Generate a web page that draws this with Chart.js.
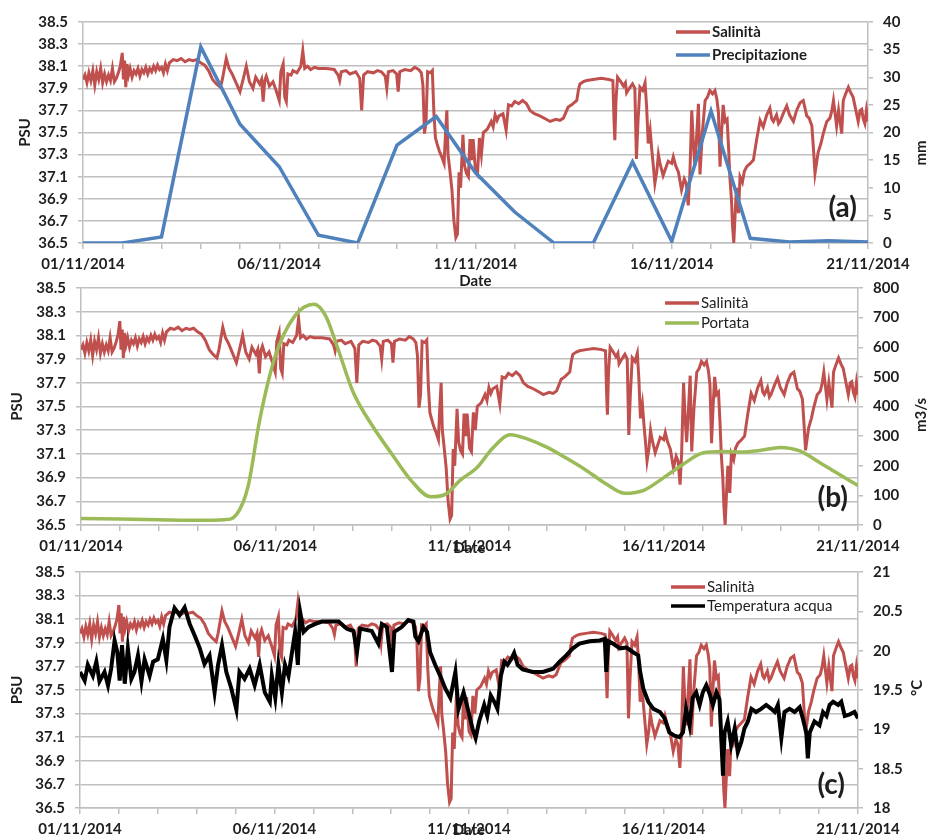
<!DOCTYPE html>
<html lang="it">
<head>
<meta charset="UTF-8">
<title>Salinità, precipitazione, portata e temperatura acqua</title>
<script src="https://cdn.jsdelivr.net/npm/chart.js"></script>
<style>
  body { margin: 0; background: #fff; }
  .panel { position: absolute; left: 0; width: 928px; }
  #pa { top: 0; height: 290px; }
  #pb { top: 278px; height: 282px; }
  #pc { top: 560px; height: 279px; }
</style>
</head>
<body>
<div class="panel" id="pa"><canvas id="chartA"></canvas></div>
<div class="panel" id="pb"><canvas id="chartB"></canvas></div>
<div class="panel" id="pc"><canvas id="chartC"></canvas></div>
<script>
// x = days since 01/11/2014
const dateLabels = ['01/11/2014', '06/11/2014', '11/11/2014', '16/11/2014', '21/11/2014'];

// Salinità (PSU), same series in all three panels
const salDay = [
  0,0.05,0.1,0.15,0.2,0.25,0.3,0.35,0.4,0.45,0.5,0.55,0.6,0.65,0.7,0.75,0.8,0.85,0.9,0.95,
  1,1.03,1.06,1.09,1.12,1.16,1.2,1.25,1.3,1.35,1.4,1.45,1.5,1.55,1.6,1.65,1.7,1.75,1.8,1.85,1.9,1.95,
  2,2.05,2.1,2.15,2.2,2.3,2.4,2.5,2.6,2.7,2.8,2.9,
  3,3.1,3.2,3.3,3.4,3.5,3.55,3.65,3.72,3.8,3.9,
  4,4.08,4.16,4.24,4.33,4.4,4.5,4.55,4.59,4.63,4.67,4.75,4.84,4.92,
  5,5.04,5.1,5.14,5.18,5.22,5.3,5.35,5.45,5.55,5.6,5.65,5.72,5.8,5.9,
  6,6.2,6.4,6.5,6.54,6.58,6.7,6.8,6.95,
  7.05,7.1,7.15,7.25,7.4,7.5,7.6,7.7,7.74,7.78,7.9,7.99,
  8.03,8.07,8.2,8.35,8.45,8.55,8.62,8.66,8.7,8.74,8.78,8.85,8.9,8.94,8.98,
  9.02,9.08,9.14,9.2,9.24,9.27,9.3,9.34,9.4,9.45,9.5,9.54,9.58,9.62,9.68,9.72,9.77,9.82,9.86,9.9,9.94,
  10,10.05,10.1,10.15,10.2,10.3,10.4,10.45,10.5,10.55,10.6,10.7,10.78,10.84,10.92,
  11,11.1,11.2,11.3,11.39,11.5,11.64,11.8,11.9,
  12.05,12.15,12.24,12.3,12.36,12.45,12.58,12.62,12.66,12.75,12.83,
  13,13.2,13.4,13.5,13.53,13.55,13.58,13.62,13.7,13.77,13.82,13.85,13.92,
  14,14.06,14.1,14.14,14.19,14.26,14.32,14.36,14.4,14.45,14.49,14.53,14.57,14.62,14.66,14.7,14.78,14.85,14.91,
  15,15.04,15.1,15.17,15.25,15.32,15.37,15.42,15.46,15.51,15.55,15.59,15.64,15.68,15.72,15.78,15.85,15.91,15.97,
  16.04,16.1,16.15,16.19,16.23,16.27,16.31,16.36,16.41,16.45,16.48,16.52,16.55,16.58,16.62,16.65,16.7,16.74,16.8,16.85,16.91,
  17,17.08,17.16,17.25,17.33,17.42,17.5,17.55,17.59,17.67,17.72,17.76,17.85,17.93,
  18,18.1,18.18,18.27,18.35,18.44,18.5,18.57,18.62,18.65,18.7,18.73,18.8,18.86,18.95,
  19.03,19.08,19.12,19.2,19.25,19.33,19.37,19.43,19.5,19.56,19.62,19.68,19.75,19.8,19.84,19.88,19.92,19.96,20
];
const salVal = [
  37.98,38.02,37.95,38.04,37.97,38.06,37.93,38.05,37.98,38.08,37.95,38.03,37.96,38.02,37.97,38.08,37.96,37.99,38.04,38.10,
  38.22,37.98,38.15,37.91,38.12,38.02,38.08,38.00,38.06,38.03,38.08,38.01,38.07,38.04,38.09,38.03,38.08,38.05,38.10,38.06,38.11,38.07,
  38.09,38.04,38.12,38.06,38.13,38.16,38.15,38.17,38.14,38.16,38.15,38.16,
  38.13,38.11,38.06,37.98,37.94,37.91,37.98,38.17,38.08,38.03,37.95,
  37.87,37.98,38.10,37.96,37.90,38.00,37.94,37.98,37.78,37.97,38.01,37.92,37.96,37.88,
  37.79,38.05,38.12,37.82,37.78,38.03,38.02,38.06,38.04,38.10,38.24,38.08,38.10,38.07,38.09,
  38.08,38.08,38.07,38.02,37.97,38.05,38.06,38.03,38.05,
  37.99,37.70,38.02,38.05,38.04,38.06,38.05,38.01,37.90,38.05,38.06,38.03,
  37.87,38.05,38.07,38.06,38.09,38.07,38.04,37.93,37.49,37.60,38.05,38.04,38.06,37.68,37.45,
  37.40,37.33,37.28,37.22,37.52,37.70,37.30,37.18,36.98,36.70,36.55,36.58,37.14,37.00,37.48,37.20,37.13,37.10,37.44,37.25,37.44,
  37.15,37.12,37.45,37.30,37.50,37.53,37.60,37.55,37.66,37.61,37.65,37.67,37.52,37.75,37.74,
  37.78,37.76,37.79,37.76,37.70,37.67,37.65,37.62,37.60,
  37.62,37.61,37.63,37.68,37.73,37.75,37.79,37.88,37.94,37.96,37.97,
  37.98,37.99,37.98,37.97,37.60,37.43,37.80,38.00,37.96,37.92,37.95,37.86,37.90,
  37.94,37.90,37.26,37.60,37.91,37.88,37.95,37.73,37.40,37.52,37.35,37.20,37.04,37.15,37.30,37.22,37.11,37.18,37.24,
  37.22,37.28,37.20,37.14,36.98,37.08,37.04,36.84,37.10,37.70,37.40,37.20,37.50,37.76,37.12,37.50,37.79,37.82,37.88,
  37.85,37.88,37.80,37.68,37.19,37.50,37.75,37.60,37.62,37.35,37.10,36.90,36.65,36.50,36.80,37.00,36.77,37.10,37.05,37.15,37.19,
  37.22,37.25,37.43,37.61,37.55,37.66,37.72,37.62,37.60,37.66,37.58,37.60,37.68,37.74,
  37.66,37.60,37.70,37.77,37.79,37.65,37.63,37.56,37.30,37.13,37.25,37.32,37.40,37.49,37.60,
  37.63,37.70,37.79,37.56,37.70,37.49,37.79,37.85,37.91,37.86,37.82,37.72,37.60,37.70,37.71,37.62,37.58,37.70,37.60
];

// Precipitazione (mm), daily
const precDay = [0,1,2,3,4,5,6,7,8,9,10,11,12,13,14,15,16,17,18,19,20];
const precVal = [0,0,1.1,35.5,21.5,13.8,1.4,0,17.7,22.9,12.7,5.6,0,0,14.7,0.3,23.9,0.85,0.2,0.4,0.2];

// Portata (m3/s)
const portDay = [0,1,2,3,3.7,4,4.3,4.6,5,5.5,6,6.3,6.6,7,7.5,8,8.5,9,9.4,9.75,10.2,10.6,11.05,11.5,12,12.5,13,13.5,14,14.5,15,15.5,16,16.5,17,17.5,18,18.5,19,19.5,20];
const portVal = [22,20,18,16,18,35,130,355,570,705,745,705,600,450,335,240,150,95,105,150,195,260,305,290,262,225,185,140,107,118,160,205,243,248,246,252,262,250,212,172,133];

// Temperatura acqua (°C)
const tempDay = [
  0,0.12,0.2,0.33,0.42,0.5,0.63,0.72,0.8,0.89,0.96,
  1.02,1.08,1.15,1.23,1.32,1.4,1.49,1.58,1.66,1.79,1.88,
  2,2.13,2.22,2.3,2.43,2.56,2.69,2.82,2.95,
  3.08,3.2,3.33,3.46,3.55,3.65,3.76,3.89,
  4.02,4.1,4.23,4.36,4.49,4.62,4.75,4.88,4.93,
  5.02,5.1,5.19,5.27,5.36,5.45,5.53,5.6,5.66,5.75,5.87,
  6.05,6.22,6.65,6.86,
  7.03,7.12,7.2,7.5,7.67,7.76,7.89,
  8.02,8.08,8.27,8.44,8.57,8.62,8.7,8.83,8.92,
  9,9.13,9.26,9.39,9.52,9.65,9.73,9.86,9.95,
  10.09,10.17,10.26,10.39,10.47,10.56,10.65,10.73,10.82,10.91,10.99,
  11.08,11.16,11.25,11.38,11.64,11.9,
  12.16,12.33,12.5,12.67,12.84,
  13.1,13.36,13.49,13.53,13.58,13.7,13.88,
  14.05,14.22,14.35,14.4,14.48,14.61,14.74,14.91,
  15.03,15.15,15.28,15.41,15.5,15.58,15.67,15.75,15.84,15.93,
  16.01,16.1,16.18,16.27,16.36,16.44,16.53,16.57,16.65,16.74,16.83,16.91,
  17,17.08,17.17,17.26,17.38,17.51,17.64,17.77,17.86,17.94,
  18.03,18.11,18.24,18.37,18.5,18.58,18.67,18.71,18.76,18.88,
  19.01,19.1,19.19,19.27,19.36,19.49,19.57,19.66,19.79,19.91,20
];
const tempVal = [
  19.73,19.62,19.82,19.68,19.86,19.61,19.73,19.56,19.77,20.13,19.98,
  19.62,20.07,19.58,20.03,19.64,19.73,19.94,19.61,19.89,19.68,19.86,
  19.89,20.15,19.88,20.30,20.54,20.45,20.55,20.34,20.19,
  20.03,19.83,19.94,19.47,19.82,20.07,19.73,19.52,
  19.25,19.73,19.64,19.77,19.56,19.82,19.47,19.35,19.68,
  19.40,19.82,19.47,19.82,19.68,19.98,20.24,19.82,20.49,20.24,20.30,
  20.34,20.37,20.37,20.28,
  20.25,19.98,20.28,20.25,20.09,20.34,20.30,
  19.73,20.24,20.30,20.39,20.37,20.18,20.12,20.30,20.24,
  19.98,19.82,19.68,19.52,19.40,19.73,19.26,19.47,19.30,
  19.01,18.89,19.10,19.31,19.17,19.43,19.35,19.26,19.68,19.86,19.82,
  19.89,19.97,19.82,19.76,19.73,19.73,
  19.77,19.86,19.94,20.03,20.09,
  20.12,20.13,20.15,19.73,20.12,20.09,20.03,
  20.04,19.98,19.94,19.73,19.52,19.35,19.26,19.22,
  19.14,18.96,18.92,18.90,18.96,19.26,19.05,19.40,19.47,19.31,
  19.47,19.56,19.46,19.31,19.47,19.38,18.41,18.96,19.10,18.80,19.01,18.71,
  18.84,19.01,19.10,19.26,19.22,19.26,19.31,19.26,19.22,19.31,
  18.89,19.22,19.26,19.22,19.28,19.14,18.96,18.63,18.96,19.10,
  19.05,19.22,19.17,19.31,19.35,19.31,19.35,19.17,19.19,19.22,19.14
];

const pts = (xs, ys) => xs.map((x, i) => ({ x: x, y: ys[i] }));
const salinity = pts(salDay, salVal);

const FONT = "Lato, 'Open Sans', sans-serif";
const INK = '#1e1e1e';
const GRID = '#BFBFBF';
Chart.defaults.font.family = FONT;
Chart.defaults.color = INK;

// legend, right axis title and panel tag, drawn over the plot
const decorPlugin = {
  id: 'decor',
  afterDatasetsDraw(chart, args, o) {
    const ctx = chart.ctx;
    ctx.save();
    chart.data.datasets.forEach((ds, i) => {
      const y = o.legendY + i * o.legendGap;
      ctx.strokeStyle = ds.borderColor;
      ctx.lineWidth = 3.5;
      ctx.beginPath();
      ctx.moveTo(o.legendX, y);
      ctx.lineTo(o.legendX + 34, y);
      ctx.stroke();
      ctx.fillStyle = INK;
      ctx.font = o.legendFont;
      ctx.textAlign = 'left';
      ctx.textBaseline = 'middle';
      ctx.fillText(ds.label, o.legendX + 36, y);
    });
    ctx.font = 'bold 28px ' + FONT;
    ctx.textAlign = 'right';
    ctx.textBaseline = 'middle';
    ctx.fillText(o.tag, o.tagX, o.tagY);
    ctx.translate(o.rtX, o.rtY);
    ctx.rotate(-Math.PI / 2);
    ctx.font = 'bold 15px ' + FONT;
    ctx.textAlign = 'center';
    ctx.fillText(o.rightTitle, 0, 0);
    ctx.restore();
  }
};

function makeOptions(p) {
  const tickFont = { family: FONT, size: 15, weight: 'bold' };
  return {
    responsive: true,
    maintainAspectRatio: false,
    animation: false,
    layout: { padding: { top: p.top, left: 0, right: 0, bottom: 0 }, autoPadding: false },
    elements: { point: { radius: 0 } },
    plugins: { legend: { display: false }, tooltip: { enabled: false }, decor: p.decor },
    scales: {
      x: {
        type: 'linear', min: 0, max: 20,
        ticks: {
          stepSize: 1, autoSkip: false, maxRotation: 0, padding: 6, font: tickFont, color: INK,
          callback: v => (v % 5 === 0 ? dateLabels[v / 5] : '')
        },
        grid: { drawOnChartArea: false, tickLength: 6, color: GRID, lineWidth: 1.5 },
        border: { color: GRID, width: 1.5 },
        title: { display: true, text: 'Date', font: { family: FONT, size: 15, weight: 'bold' }, color: INK,
                 padding: { top: 0, bottom: p.datePad } },
        afterFit: s => { s.height = p.xh; s.paddingLeft = 0; s.paddingRight = 0; }
      },
      y: {
        position: 'left', min: 36.5, max: 38.5,
        ticks: { stepSize: 0.2, padding: 10, font: tickFont, color: INK, callback: v => v.toFixed(1) },
        grid: { color: GRID, lineWidth: 1.5, tickLength: 5 },
        border: { color: GRID, width: 1.5 },
        title: { display: true, text: 'PSU', font: { family: FONT, size: 15, weight: 'bold' }, color: INK,
                 padding: { top: p.psuPad, bottom: 0 } },
        afterFit: s => { s.width = p.left; s.paddingTop = 0; s.paddingBottom = 0; }
      },
      y2: {
        position: 'right', min: p.rmin, max: p.rmax,
        ticks: { stepSize: p.rstep, padding: 10, font: tickFont, color: INK, callback: v => String(+v.toFixed(2)) },
        grid: { drawOnChartArea: false, color: GRID, lineWidth: 1.5, tickLength: 5 },
        border: { color: GRID, width: 1.5 },
        afterFit: s => { s.width = 928 - p.right; s.paddingTop = 0; s.paddingBottom = 0; }
      }
    }
  };
}

const salStyle = { label: 'Salinità', data: salinity, borderColor: '#C0504D', borderWidth: 3, yAxisID: 'y', order: 1 };

new Chart(document.getElementById('chartA'), {
  type: 'line',
  data: {
    datasets: [
      Object.assign({}, salStyle),
      { label: 'Precipitazione', data: pts(precDay, precVal), borderColor: '#4F81BD', borderWidth: 3.5, yAxisID: 'y2', order: 0 }
    ]
  },
  options: makeOptions({
    top: 22, xh: 47, left: 83, right: 868, datePad: 0, psuPad: 16, rmin: 0, rmax: 40, rstep: 5,
    decor: { legendX: 676, legendY: 32, legendGap: 23, legendFont: 'bold 15px ' + FONT,
             tag: '(a)', tagX: 857, tagY: 208, rightTitle: 'mm', rtX: 921, rtY: 153 }
  }),
  plugins: [decorPlugin]
});

new Chart(document.getElementById('chartB'), {
  type: 'line',
  data: {
    datasets: [
      Object.assign({}, salStyle),
      { label: 'Portata', data: pts(portDay, portVal), borderColor: '#9BBB59', borderWidth: 3.5, yAxisID: 'y2', order: 0,
        cubicInterpolationMode: 'monotone' }
    ]
  },
  options: makeOptions({
    top: 10, xh: 35, left: 81, right: 858, datePad: 3, psuPad: 8, rmin: 0, rmax: 800, rstep: 100,
    decor: { legendX: 665, legendY: 25, legendGap: 20, legendFont: '15px ' + FONT,
             tag: '(b)', tagX: 848, tagY: 220, rightTitle: 'm3/s', rtX: 921, rtY: 137 }
  }),
  plugins: [decorPlugin]
});

new Chart(document.getElementById('chartC'), {
  type: 'line',
  data: {
    datasets: [
      Object.assign({}, salStyle),
      { label: 'Temperatura acqua', data: pts(tempDay, tempVal), borderColor: '#000000', borderWidth: 4, yAxisID: 'y2', order: 0 }
    ]
  },
  options: makeOptions({
    top: 12, xh: 31, left: 80, right: 858, datePad: 0, psuPad: 8, rmin: 18, rmax: 21, rstep: 0.5,
    decor: { legendX: 671, legendY: 27, legendGap: 19, legendFont: '15px ' + FONT,
             tag: '(c)', tagX: 845, tagY: 225, rightTitle: '°C', rtX: 917, rtY: 128 }
  }),
  plugins: [decorPlugin]
});
</script>
</body>
</html>
